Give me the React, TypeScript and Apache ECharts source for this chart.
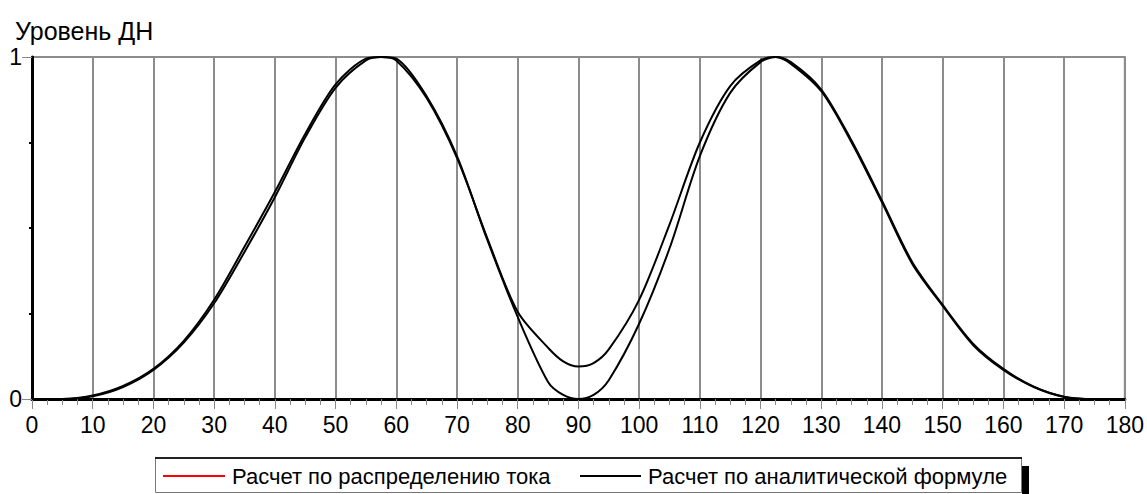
import React, { useEffect, useRef } from "react";
import * as echarts from "echarts";

const angles = [0, 5, 10, 15, 20, 25, 30, 35, 40, 45, 50, 55, 57.5, 60, 65, 70, 75, 80, 85, 87.5, 90, 92.5, 95, 100, 105, 110, 115, 120, 122.5, 125, 130, 135, 140, 145, 150, 155, 160, 165, 170, 175, 180];

// Расчет по распределению тока (min ~0.095 at 90°)
const currentDist = [0, 0, 0.01, 0.038, 0.088, 0.17, 0.29, 0.445, 0.605, 0.775, 0.92, 0.995, 1, 0.99, 0.88, 0.705, 0.47, 0.255, 0.15, 0.11, 0.095, 0.105, 0.145, 0.29, 0.51, 0.75, 0.915, 0.99, 1, 0.98, 0.9, 0.75, 0.575, 0.395, 0.272, 0.158, 0.085, 0.035, 0.006, 0, 0];

// Расчет по аналитической формуле (zero at 90°)
const analytic = [0, 0, 0.008, 0.035, 0.085, 0.165, 0.28, 0.43, 0.59, 0.765, 0.91, 0.99, 1, 0.995, 0.885, 0.71, 0.465, 0.24, 0.05, 0.012, 0, 0.012, 0.055, 0.22, 0.44, 0.71, 0.895, 0.985, 1, 0.985, 0.905, 0.755, 0.58, 0.4, 0.275, 0.162, 0.088, 0.036, 0.007, 0, 0];

const seriesNames = ["Расчет по распределению тока", "Расчет по аналитической формуле"];
const titleText = "Уровень ДН";

const FONT = "'Liberation Sans', Arial, sans-serif";

export default function App() {
  const ref = useRef<HTMLDivElement>(null);
  useEffect(() => {
    if (!ref.current) return;
    const chart = echarts.init(ref.current, null, { renderer: "svg" });
    const option: any = {
      animation: false,
      title: {
        text: titleText,
        left: 10,
        top: 13,
        textStyle: { fontFamily: FONT, fontSize: 25, fontWeight: "normal", color: "#000" },
      },
      grid: { left: 32, right: 18, top: 57, bottom: 95, show: true, borderColor: "#8c8c8c", borderWidth: 2 },
      xAxis: {
        type: "value",
        min: 0,
        max: 180,
        interval: 10,
        offset: 2,
        axisLine: { show: true, lineStyle: { color: "#000", width: 3 } },
        axisTick: { show: true, length: 10, lineStyle: { color: "#888", width: 1 } },
        minorTick: { show: true, splitNumber: 4, length: 6, lineStyle: { color: "#888", width: 1 } },
        axisLabel: { fontSize: 23, color: "#000", margin: 12, fontFamily: FONT },
        splitLine: { show: true, lineStyle: { color: "#8c8c8c", width: 2 } },
      },
      yAxis: {
        type: "value",
        min: 0,
        max: 1,
        interval: 1,
        axisLine: { show: true, lineStyle: { color: "#000", width: 3 } },
        axisTick: { show: true, length: 10, lineStyle: { color: "#888", width: 1 } },
        minorTick: { show: true, splitNumber: 4, length: 3, lineStyle: { color: "#000", width: 2 } },
        axisLabel: { fontSize: 23, color: "#000", margin: 10, fontFamily: FONT },
        splitLine: { show: false },
      },
      series: [
        {
          name: seriesNames[0],
          type: "line",
          data: angles.map((a, i) => [a, currentDist[i]]),
          showSymbol: false,
          smooth: 0.3,
          lineStyle: { color: "#000", width: 2 },
          itemStyle: { color: "#f00" },
        },
        {
          name: seriesNames[1],
          type: "line",
          data: angles.map((a, i) => [a, analytic[i]]),
          showSymbol: false,
          smooth: 0.3,
          lineStyle: { color: "#000", width: 2 },
          itemStyle: { color: "#000" },
        },
      ],
      graphic: [
        { type: "rect", shape: { x: 1022, y: 466, width: 7, height: 28 }, style: { fill: "#000" } },
        { type: "rect", shape: { x: 155.5, y: 458.5, width: 866, height: 34 }, style: { fill: "#fff", stroke: "#777", lineWidth: 1 } },
        { type: "line", shape: { x1: 155, y1: 458, x2: 1022, y2: 458 }, style: { stroke: "#222", lineWidth: 2 } },
        { type: "line", shape: { x1: 163, y1: 476, x2: 225, y2: 476 }, style: { stroke: "#ff0000", lineWidth: 2 } },
        { type: "text", x: 232, y: 476, style: { text: seriesNames[0], fontSize: 22, fontFamily: FONT, fill: "#000", verticalAlign: "middle" } },
        { type: "line", shape: { x1: 580, y1: 476, x2: 641, y2: 476 }, style: { stroke: "#000", lineWidth: 2 } },
        { type: "text", x: 648, y: 476, style: { text: seriesNames[1], fontSize: 22, fontFamily: FONT, fill: "#000", verticalAlign: "middle" } },
      ],
    };
    chart.setOption(option);
    return () => chart.dispose();
  }, []);
  return <div ref={ref} style={{ position: "absolute", left: 0, top: 0, width: 1147, height: 494 }} />;
}
